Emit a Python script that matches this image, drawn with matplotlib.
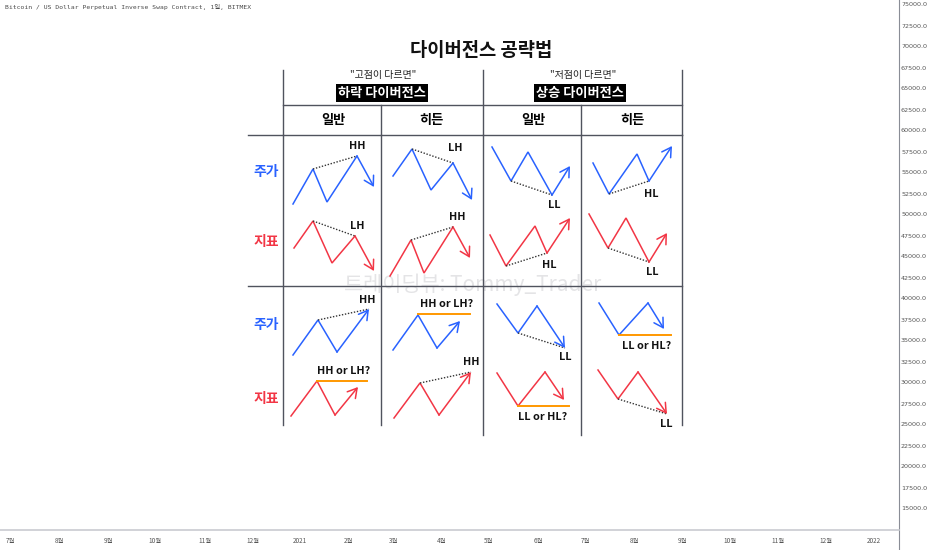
"""Divergence cheat-sheet drawn over a TradingView-style price/time frame."""

import matplotlib

matplotlib.use("Agg")
import matplotlib.pyplot as plt  # noqa: E402

KR = ["Noto Sans CJK KR", "DejaVu Sans"]
plt.rcParams["font.family"] = KR

BLUE = "#2962ff"
RED = "#f23645"
ORANGE = "#ff9800"
GRID = "#50535e"

# chart frame (TradingView background)
symbol_title = "Bitcoin / US Dollar Perpetual Inverse Swap Contract, 1일, BITMEX"
price_ticks = [75000, 72500, 70000, 67500, 65000, 62500, 60000, 57500, 55000,
               52500, 50000, 47500, 45000, 42500, 40000, 37500, 35000, 32500,
               30000, 27500, 25000, 22500, 20000, 17500, 15000]
month_labels = ["7월", "8월", "9월", "10월", "11월", "12월", "2021", "2월", "3월",
                "4월", "5월", "6월", "7월", "8월", "9월", "10월", "11월", "12월", "2022"]
month_x = [10, 59, 108, 155, 205, 253, 300, 348, 394, 442, 489, 538, 585, 634,
           682, 730, 778, 826, 874]

# zigzags (pixel space), top block: classic / hidden, bottom block: ambiguous cases
price_bear_regular = [(293, 204), (313, 169), (327, 202), (357, 156), (374, 187)]
ind_bear_regular = [(294, 248), (313, 221), (332, 263), (355, 236), (374, 271)]
price_bear_hidden = [(393, 176), (412, 149), (431, 190), (453, 163), (472, 200)]
ind_bear_hidden = [(390, 276), (411, 240), (424, 273), (453, 227), (470, 258)]
price_bull_regular = [(492, 147), (511, 181), (528, 152), (552, 195), (570, 166)]
ind_bull_regular = [(490, 235), (506, 266), (535, 226), (547, 253), (570, 218)]
price_bull_hidden = [(593, 163), (609, 194), (637, 154), (649, 181), (672, 146)]
ind_bull_hidden = [(589, 214), (608, 248), (626, 218), (649, 262), (667, 233)]

price_bear_regular2 = [(293, 355), (318, 320), (337, 352), (369, 309)]
ind_bear_regular2 = [(291, 416), (317, 381), (335, 415), (358, 387)]
price_bear_hidden2 = [(393, 350), (418, 315), (437, 348), (460, 321)]
ind_bear_hidden2 = [(394, 418), (420, 383), (439, 415), (471, 372)]
price_bull_regular2 = [(497, 304), (518, 333), (537, 306), (565, 348)]
ind_bull_regular2 = [(497, 373), (518, 406), (545, 372), (564, 400)]
price_bull_hidden2 = [(599, 303), (619, 335), (648, 303), (664, 329)]
ind_bull_hidden2 = [(598, 370), (618, 399), (638, 372), (667, 414)]

zigzags = [
    (price_bear_regular, BLUE), (ind_bear_regular, RED),
    (price_bear_hidden, BLUE), (ind_bear_hidden, RED),
    (price_bull_regular, BLUE), (ind_bull_regular, RED),
    (price_bull_hidden, BLUE), (ind_bull_hidden, RED),
    (price_bear_regular2, BLUE), (ind_bear_regular2, RED),
    (price_bear_hidden2, BLUE), (ind_bear_hidden2, RED),
    (price_bull_regular2, BLUE), (ind_bull_regular2, RED),
    (price_bull_hidden2, BLUE), (ind_bull_hidden2, RED),
]

# dotted trend lines between pivots
dotted = [
    ((313, 169), (357, 156)), ((313, 221), (355, 236)),
    ((412, 149), (453, 163)), ((411, 240), (453, 227)),
    ((511, 181), (552, 195)), ((506, 266), (547, 253)),
    ((609, 194), (649, 181)), ((608, 248), (649, 262)),
    ((318, 320), (369, 309)), ((420, 383), (471, 372)),
    ((518, 333), (565, 348)), ((618, 399), (667, 414)),
]
# flat orange "equal level" lines
flat = [((317, 381), (367, 381)), ((418, 314), (470, 314)),
        ((518, 406), (569, 406)), ((619, 335), (671, 335))]

pivot_labels = [
    ("HH", 357, 146), ("LH", 357, 226), ("LH", 455, 148), ("HH", 457, 217),
    ("LL", 554, 205), ("HL", 549, 265), ("HL", 651, 194), ("LL", 652, 272),
    ("HH", 367, 300), ("HH or LH?", 344, 371), ("HH or LH?", 447, 304),
    ("HH", 471, 362), ("LL", 565, 357), ("LL or HL?", 543, 417),
    ("LL or HL?", 647, 346), ("LL", 666, 424),
]

col_headers = ["일반", "히든", "일반", "히든"]
col_x = [333, 431, 533, 632]
row_labels = ["주가", "지표", "주가", "지표"]
row_y = [172, 242, 325, 399]
row_colors = [BLUE, RED, BLUE, RED]


def price_to_y(p):
    return 5 + (75000 - p) / 2500 * 21


fig = plt.figure(figsize=(9.32, 5.5), dpi=100)
ax = fig.add_axes([0, 0, 1, 1])
ax.set_xlim(0, 932)
ax.set_ylim(550, 0)
ax.axis("off")

# --- TradingView frame ---
ax.text(5, 7, symbol_title, fontsize=4.6, color="#4a4a4a", va="center",
        family=["DejaVu Sans Mono", "Noto Sans CJK KR"])
ax.plot([899, 899], [0, 550], color="#8a8d96", lw=0.8)
ax.plot([0, 899], [530, 530], color="#c9cbd1", lw=1.2)
for p in price_ticks:
    ax.text(914, price_to_y(p), f"{p:.1f}", fontsize=4.6, color="#555555",
            ha="center", va="center", family="DejaVu Sans")
for lbl, x in zip(month_labels, month_x):
    ax.text(x, 541, lbl, fontsize=4.6, color="#555555", ha="center", va="center")

# watermark
ax.text(473, 285, "트레이딩뷰: Tommy_Trader", fontsize=15, color="#e4e4e6",
        ha="center", va="center", zorder=0)

# --- table ---
ax.text(481, 50, "다이버전스 공략법", fontsize=13.5, ha="center", va="center",
        weight="bold", color="#111111")
for x in (283, 483, 682):
    ax.plot([x, x], [70, 135], color=GRID, lw=1.0)
for x in (381, 581):
    ax.plot([x, x], [105, 135], color=GRID, lw=1.0)
ax.plot([283, 682], [105, 105], color=GRID, lw=1.0)
ax.plot([248, 682], [135, 135], color=GRID, lw=1.0)
ax.plot([248, 682], [286, 286], color=GRID, lw=1.0)
for x, y1 in ((283, 425), (381, 425), (483, 435), (581, 435), (682, 425)):
    ax.plot([x, x], [135, y1], color=GRID, lw=1.0)

ax.text(383, 75, '"고점이 다르면"', fontsize=7.2, ha="center", va="center",
        color="#222222", style="italic")
ax.text(583, 75, '"저점이 다르면"', fontsize=7.2, ha="center", va="center",
        color="#222222", style="italic")
for x, txt in ((382, "하락 다이버전스"), (580, "상승 다이버전스")):
    ax.text(x, 93, txt, fontsize=9.5, ha="center", va="center", weight="bold",
            color="white",
            bbox=dict(boxstyle="square,pad=0.12", fc="black", ec="none"))

for x, txt in zip(col_x, col_headers):
    ax.text(x, 120, txt, fontsize=9.5, ha="center", va="center", weight="bold")
for y, txt, c in zip(row_y, row_labels, row_colors):
    ax.text(266, y, txt, fontsize=10, ha="center", va="center", weight="bold",
            color=c)

# --- zigzags ---
for pts, c in zigzags:
    xs = [p[0] for p in pts]
    ys = [p[1] for p in pts]
    ax.plot(xs[:-1], ys[:-1], color=c, lw=1.1, solid_joinstyle="miter")
    ax.annotate("", xy=pts[-1], xytext=pts[-2],
                arrowprops=dict(arrowstyle="->,head_length=0.65,head_width=0.38",
                                color=c, lw=1.1, shrinkA=0, shrinkB=0))

for a, b in dotted:
    ax.plot([a[0], b[0]], [a[1], b[1]], color="#333333", lw=1.0,
            linestyle=(0, (1, 1.2)))
for a, b in flat:
    ax.plot([a[0], b[0]], [a[1], b[1]], color=ORANGE, lw=1.4)

for txt, x, y in pivot_labels:
    ax.text(x, y, txt, fontsize=7.8, ha="center", va="center", weight="bold",
            color="#111111")

fig.savefig("out.png", dpi=100)
